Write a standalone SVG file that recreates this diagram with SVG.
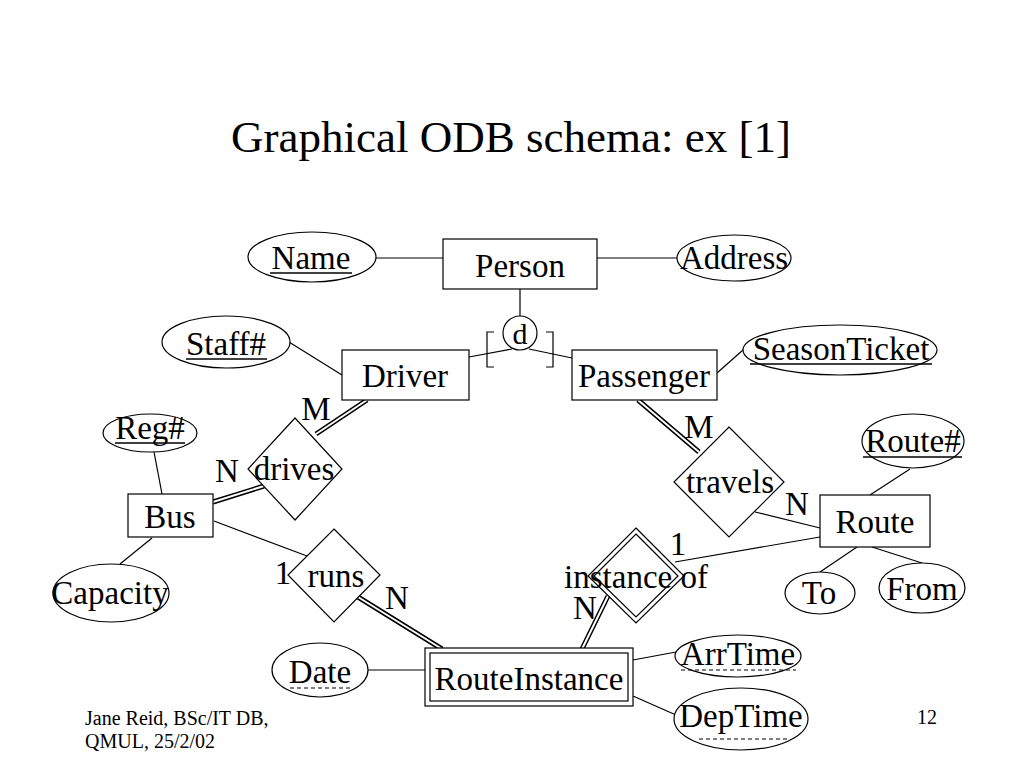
<svg xmlns="http://www.w3.org/2000/svg" width="1024" height="768" viewBox="0 0 1024 768">
<style>
text{font-family:"Liberation Serif","Times New Roman",serif;fill:#000}
.t{font-size:33px;text-anchor:middle}
.title{font-size:45px;text-anchor:middle}
.foot{font-size:20px}
.s{fill:#fff;stroke:#000;stroke-width:1.2}
.ln{stroke:#000;stroke-width:1.2;fill:none}
.dblo{stroke:#000;stroke-width:5;fill:none}
.dbli{stroke:#fff;stroke-width:2;fill:none}
.ul{stroke:#000;stroke-width:1.5}
.dul{stroke:#000;stroke-width:1.2;stroke-dasharray:4 3}
</style>
<rect width="1024" height="768" fill="#fff"/>
<text class="title" x="511" y="152">Graphical ODB schema: ex [1]</text>

<g id="connectors">
<line class="ln" x1="376" y1="258" x2="443" y2="258"/>
<line class="ln" x1="597" y1="258" x2="677" y2="258"/>
<line class="ln" x1="520" y1="289" x2="520" y2="316"/>
<line class="ln" x1="512" y1="349" x2="469" y2="357"/>
<line class="ln" x1="529" y1="349" x2="572" y2="358"/>
<path class="ln" d="M494 332H487V367H494"/>
<path class="ln" d="M546 332H553V367H546"/>
<line class="ln" x1="289" y1="342" x2="342" y2="375"/>
<line class="ln" x1="717" y1="373" x2="743" y2="350"/>
<line class="ln" x1="154" y1="452" x2="162" y2="494"/>
<line class="ln" x1="152" y1="538" x2="120" y2="564"/>
<line class="ln" x1="214" y1="521" x2="307" y2="556"/>
<line class="ln" x1="755" y1="512" x2="820" y2="528"/>
<line class="ln" x1="675" y1="562" x2="820" y2="537"/>
<line class="ln" x1="910" y1="469" x2="870" y2="495"/>
<line class="ln" x1="857" y1="547" x2="820" y2="572"/>
<line class="ln" x1="872" y1="547" x2="922" y2="563"/>
<line class="ln" x1="368" y1="670" x2="425" y2="670"/>
<line class="ln" x1="633" y1="660" x2="676" y2="652"/>
<line class="ln" x1="633" y1="696" x2="676" y2="715"/>
<g>
<path class="dblo" d="M367 400L316 434M213 502L264 486M638 400L699 452M358 597L442 649M608 596L582 649"/>
<path class="dbli" d="M367 400L316 434M213 502L264 486M638 400L699 452M358 597L442 649M608 596L582 649"/>
</g>
</g>

<g id="person">
<rect class="s" x="443" y="239" width="154" height="50"/>
<text class="t" x="520" y="277">Person</text>
</g>
<g id="name">
<ellipse class="s" cx="312" cy="257" rx="64" ry="25"/>
<text class="t" x="311" y="269">Name</text>
<line class="ul" x1="270" y1="273" x2="352" y2="273"/>
</g>
<g id="address">
<ellipse class="s" cx="734" cy="258" rx="57" ry="23"/>
<text class="t" x="734" y="269">Address</text>
</g>
<g id="disjoint">
<circle class="s" cx="520" cy="333" r="17"/>
<text x="520" y="344" style="font-size:30px;text-anchor:middle">d</text>
</g>
<g id="driver">
<rect class="s" x="342" y="350" width="127" height="50"/>
<text class="t" x="405" y="387">Driver</text>
</g>
<g id="passenger">
<rect class="s" x="572" y="350" width="145" height="50"/>
<text class="t" x="644" y="387">Passenger</text>
</g>
<g id="staff">
<ellipse class="s" cx="226" cy="342" rx="64" ry="26"/>
<text class="t" x="226" y="355">Staff#</text>
<line class="ul" x1="186" y1="359" x2="267" y2="359"/>
</g>
<g id="seasonticket">
<ellipse class="s" cx="840" cy="350" rx="97" ry="25"/>
<text class="t" x="841" y="360">SeasonTicket</text>
<line class="ul" x1="750" y1="364" x2="932" y2="364"/>
</g>
<g id="reg">
<ellipse class="s" cx="150" cy="433" rx="47" ry="19"/>
<text class="t" x="150" y="439">Reg#</text>
<line class="ul" x1="115" y1="443" x2="185" y2="443"/>
</g>
<g id="drives">
<polygon class="s" points="295,418 342,469 295,520 248,469"/>
<text class="t" x="294" y="480">drives</text>
</g>
<g id="bus">
<rect class="s" x="128" y="494" width="85" height="43"/>
<text class="t" x="170" y="528">Bus</text>
</g>
<g id="capacity">
<ellipse class="s" cx="111" cy="593" rx="58" ry="29"/>
<text class="t" x="110" y="604">Capacity</text>
</g>
<g id="runs">
<polygon class="s" points="334,529 380,575 334,622 288,575"/>
<text class="t" x="336" y="587">runs</text>
</g>
<g id="travels">
<polygon class="s" points="729,427 784,482 729,537 674,482"/>
<text class="t" x="730" y="493">travels</text>
</g>
<g id="route">
<rect class="s" x="820" y="495" width="110" height="52"/>
<text class="t" x="875" y="533">Route</text>
</g>
<g id="routeno">
<ellipse class="s" cx="913" cy="441" rx="51" ry="27"/>
<text class="t" x="913" y="452">Route#</text>
<line class="ul" x1="863" y1="457" x2="962" y2="457"/>
</g>
<g id="to">
<ellipse class="s" cx="820" cy="593" rx="35" ry="21"/>
<text class="t" x="819" y="604">To</text>
</g>
<g id="from">
<ellipse class="s" cx="922" cy="588" rx="43" ry="25"/>
<text class="t" x="922" y="600">From</text>
</g>
<g id="instanceof">
<polygon class="s" points="636,528 684,576 636,623 588,576"/>
<polygon class="s" points="636,534 678,576 636,617 594,576"/>
<text class="t" x="636" y="588">instance of</text>
</g>
<g id="routeinstance">
<rect class="s" x="425" y="648" width="208" height="58"/>
<rect class="s" x="430" y="653" width="198" height="48"/>
<text class="t" x="529" y="690">RouteInstance</text>
</g>
<g id="date">
<ellipse class="s" cx="320" cy="670" rx="48" ry="27"/>
<text class="t" x="320" y="683">Date</text>
<line class="dul" x1="290" y1="688" x2="351" y2="688"/>
</g>
<g id="arrtime">
<ellipse class="s" cx="738" cy="656" rx="63" ry="21"/>
<text class="t" x="738" y="665">ArrTime</text>
<line class="dul" x1="681" y1="670" x2="796" y2="670"/>
</g>
<g id="deptime">
<ellipse class="s" cx="741" cy="719" rx="67" ry="31"/>
<text class="t" x="741" y="727">DepTime</text>
<line class="dul" x1="699" y1="739" x2="790" y2="739"/>
</g>

<g id="labels">
<text class="t" x="316" y="420">M</text>
<text class="t" x="699" y="438">M</text>
<text class="t" x="227" y="482">N</text>
<text class="t" x="797" y="515">N</text>
<text class="t" x="283" y="584">1</text>
<text class="t" x="397" y="609">N</text>
<text class="t" x="678" y="555">1</text>
<text class="t" x="585" y="619">N</text>
</g>

<text class="foot" x="85" y="725">Jane Reid, BSc/IT DB,</text>
<text class="foot" x="85" y="748">QMUL, 25/2/02</text>
<text class="foot" x="927" y="724" text-anchor="middle">12</text>
</svg>
